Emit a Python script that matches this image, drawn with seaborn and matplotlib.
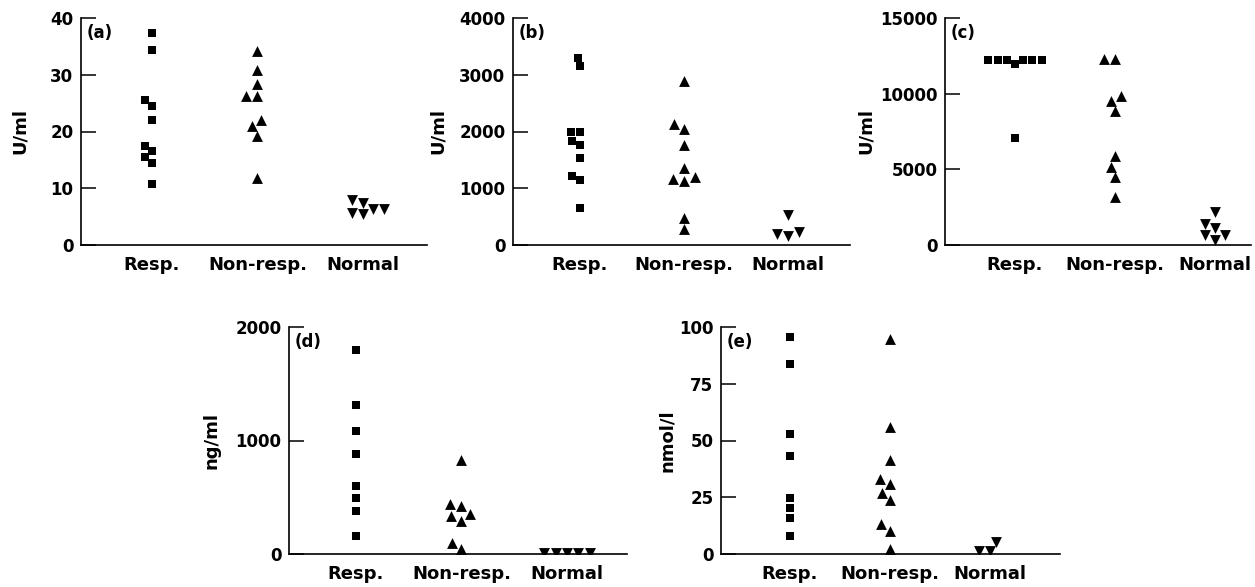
import numpy as np
import pandas as pd
import matplotlib.pyplot as plt
import seaborn as sns

groups = ['Resp.', 'Non-resp.', 'Normal']

# (a) U/ml
a_resp = [37.4, 34.3, 25.5, 24.5, 22.1, 17.5, 16.5, 15.5, 14.5, 10.8]
a_nonresp = [34.1, 30.9, 28.3, 26.2, 26.2, 22.1, 20.9, 19.2, 11.8]
a_normal = [8.0, 7.4, 6.4, 6.3, 5.7, 5.4]

# (b) U/ml
b_resp = [3300, 3150, 2000, 2000, 1830, 1770, 1540, 1210, 1140, 660]
b_nonresp = [2890, 2140, 2040, 1770, 1360, 1200, 1155, 1130, 480, 280]
b_normal = [520, 230, 200, 160]

# (c) U/ml
c_resp = [12200, 12200, 12200, 12200, 12200, 12200, 11950, 7100]
c_nonresp = [12260, 12260, 9850, 9530, 8870, 5910, 5150, 4490, 3180]
c_normal = [2190, 1420, 1100, 660, 660, 330]

# (d) ng/ml
d_resp = [1794, 1316, 1080, 885, 599, 496, 378, 156]
d_nonresp = [826, 442, 422, 354, 339, 295, 97, 47]
d_normal = [10, 10, 10, 10, 10]

# (e) nmol/l
e_resp = [95.6, 83.8, 52.8, 43.2, 24.8, 20.1, 15.9, 7.8]
e_nonresp = [94.5, 56.0, 41.4, 33.2, 30.7, 27.0, 23.6, 13.0, 10.0, 2.4]
e_normal = [5.2, 1.2, 1.2]

markers = {'Resp.': 's', 'Non-resp.': '^', 'Normal': 'v'}
msizes = {'Resp.': 6.3, 'Non-resp.': 7.8, 'Normal': 7.8}

sns.set_style('ticks')
plt.rcParams['font.family'] = ['DejaVu Sans']
plt.rcParams['font.weight'] = 'bold'
for k in ['text.color', 'axes.labelcolor', 'xtick.color', 'ytick.color',
          'axes.edgecolor']:
    plt.rcParams[k] = 'black'

W, H = 1255, 587
fig = plt.figure(figsize=(W / 100, H / 100), dpi=100)


def panel(px_left, px_right, px_top, px_bottom, series, ylabel, yticks,
          tag, xlim, label_right):
    ax = fig.add_axes([px_left / W, 1 - px_bottom / H,
                       (px_right - px_left) / W, (px_bottom - px_top) / H])
    df = pd.DataFrame({
        'group': np.repeat(groups, [len(s) for s in series]),
        'value': np.concatenate(series),
    })
    for g in groups:
        sns.swarmplot(data=df[df['group'] == g], x='group', y='value',
                      order=groups, color='black', marker=markers[g],
                      size=msizes[g], linewidth=0, ax=ax, warn_thresh=1)
    ax.set_xlim(*xlim)
    ax.set_ylim(yticks[0], yticks[-1])
    ax.set_yticks(yticks)
    ax.set_yticklabels([str(t) for t in yticks])
    ax.set_xlabel('')
    ax.set_ylabel(ylabel, fontsize=13, fontweight='bold')
    ax.yaxis.set_label_coords((label_right - px_left) / (px_right - px_left), 0.5)
    ax.tick_params(axis='y', direction='in', length=10.5, width=1.1,
                   pad=5.5, labelsize=12)
    ax.tick_params(axis='x', length=0, pad=8, labelsize=13)
    for lab in ax.get_xticklabels() + ax.get_yticklabels():
        lab.set_fontweight('bold')
    sns.despine(ax=ax)
    for s in ['left', 'bottom']:
        ax.spines[s].set_linewidth(1.2)
    ax.annotate(tag, xy=(0, 1), xycoords='axes fraction', xytext=(4, -4),
                textcoords='offset points', ha='left', va='top',
                fontsize=12, fontweight='bold')
    return ax


panel(81, 427, 18, 245, [a_resp, a_nonresp, a_normal], 'U/ml',
      [0, 10, 20, 30, 40], '(a)', (-0.673, 2.607), 29)
panel(513, 850, 18, 245, [b_resp, b_nonresp, b_normal], 'U/ml',
      [0, 1000, 2000, 3000, 4000], '(b)', (-0.644, 2.596), 447)
panel(945, 1251, 18, 245, [c_resp, c_nonresp, c_normal], 'U/ml',
      [0, 5000, 10000, 15000], '(c)', (-0.70, 2.36), 875)
panel(289, 627, 327, 554, [d_resp, d_nonresp, d_normal], 'ng/ml',
      [0, 1000, 2000], '(d)', (-0.635, 2.57), 221)
panel(721, 1060, 327, 554, [e_resp, e_nonresp, e_normal], 'nmol/l',
      [0, 25, 50, 75, 100], '(e)', (-0.69, 2.70), 676)

fig.savefig('out.png', dpi=100)
